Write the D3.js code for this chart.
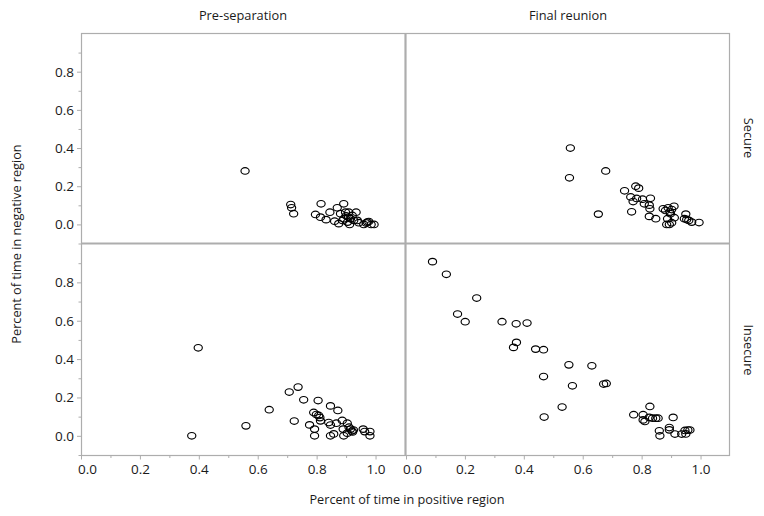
<!DOCTYPE html>
<html><head><meta charset="utf-8">
<script src="https://cdn.jsdelivr.net/npm/d3@7"></script>
<style>body{margin:0;background:#fff}svg{display:block}text{font-family:"Open Sans","Noto Sans",sans-serif;fill:#1a1a1a}</style>
</head><body><svg id="c" width="764" height="516"></svg>
<script>
const columns = ["Pre-separation", "Final reunion"];
const rows = ["Secure", "Insecure"];
const xTicks = [0, 0.2, 0.4, 0.6, 0.8, 1.0];
const yTicks = [0, 0.2, 0.4, 0.6, 0.8];

// Secure, Pre-separation: [positive, negative]
const securePre = [
  [0.557,0.280],[0.712,0.104],[0.715,0.087],[0.722,0.056],[0.796,0.052],[0.815,0.108],
  [0.813,0.038],[0.832,0.025],[0.845,0.064],[0.870,0.087],[0.892,0.108],[0.861,0.017],
  [0.881,0.056],[0.875,0.004],[0.898,0.064],[0.892,0.030],[0.900,0.045],[0.909,0.064],
  [0.905,0.012],[0.912,0.000],[0.915,0.030],[0.921,0.047],[0.926,0.021],[0.934,0.064],
  [0.938,0.021],[0.943,0.009],[0.960,0.000],[0.968,0.007],[0.972,0.012],[0.977,0.015],
  [0.985,0.000],[0.995,0.000],[0.908,0.038],[0.888,0.020]
];
// Secure, Final reunion
const secureFinal = [
  [0.558,0.400],[0.555,0.244],[0.678,0.280],[0.653,0.054],[0.742,0.176],[0.780,0.200],
  [0.790,0.190],[0.763,0.144],[0.771,0.120],[0.766,0.066],[0.783,0.136],[0.803,0.132],
  [0.809,0.108],[0.830,0.137],[0.826,0.101],[0.828,0.082],[0.826,0.042],[0.848,0.030],
  [0.873,0.082],[0.881,0.073],[0.890,0.087],[0.902,0.078],[0.910,0.095],[0.898,0.056],
  [0.888,0.030],[0.885,0.000],[0.894,0.000],[0.902,0.009],[0.911,0.035],[0.950,0.054],
  [0.945,0.030],[0.953,0.026],[0.960,0.021],[0.970,0.012],[0.995,0.010],[0.896,0.065]
];
// Insecure, Pre-separation
const insecurePre = [
  [0.398,0.459],[0.376,0.000],[0.560,0.052],[0.639,0.136],[0.707,0.228],[0.737,0.254],
  [0.756,0.188],[0.724,0.077],[0.805,0.184],[0.790,0.122],[0.799,0.111],[0.807,0.106],
  [0.811,0.095],[0.813,0.078],[0.776,0.057],[0.793,0.035],[0.793,0.000],[0.847,0.156],
  [0.872,0.132],[0.841,0.069],[0.847,0.056],[0.867,0.066],[0.887,0.080],[0.904,0.066],
  [0.890,0.035],[0.858,0.010],[0.847,0.000],[0.892,0.000],[0.904,0.014],[0.910,0.045],
  [0.915,0.035],[0.920,0.025],[0.925,0.030],[0.922,0.020],[0.958,0.035],[0.963,0.022],
  [0.981,0.022],[0.981,0.000]
];
// Insecure, Final reunion
const insecureFinal = [
  [0.090,0.908],[0.137,0.842],[0.240,0.718],[0.175,0.635],[0.201,0.595],[0.326,0.595],
  [0.374,0.584],[0.411,0.588],[0.375,0.487],[0.365,0.461],[0.440,0.452],[0.467,0.449],
  [0.553,0.370],[0.631,0.365],[0.467,0.309],[0.565,0.261],[0.671,0.270],[0.680,0.273],
  [0.530,0.150],[0.469,0.098],[0.773,0.110],[0.828,0.153],[0.805,0.110],[0.805,0.083],
  [0.811,0.075],[0.826,0.096],[0.837,0.092],[0.848,0.092],[0.856,0.092],[0.907,0.096],
  [0.860,0.026],[0.862,0.000],[0.894,0.043],[0.894,0.031],[0.913,0.009],[0.936,0.009],
  [0.947,0.028],[0.950,0.010],[0.957,0.030],[0.964,0.030]
];

const panelData = [[securePre, secureFinal], [insecurePre, insecureFinal]];

const svg = d3.select("#c");
const colX = [[81, 405], [406, 730]];
const rowY = [[243.5, 33.5], [455, 244]];
const gray = "#adadad";

for (let r = 0; r < 2; r++) {
  for (let c = 0; c < 2; c++) {
    const x = d3.scaleLinear().domain([0, 1.1]).range(colX[c]);
    const y = d3.scaleLinear().domain([-0.1, 1.0]).range(rowY[r]);
    const g = svg.append("g");
    g.selectAll("ellipse").data(panelData[r][c]).join("ellipse")
      .attr("cx", d => x(d[0])).attr("cy", d => y(d[1]))
      .attr("rx", 4.1).attr("ry", 3.3)
      .attr("fill", "none").attr("stroke", "#000").attr("stroke-width", 1.15);
  }
}

// frames
svg.append("rect").attr("x", 81.5).attr("y", 33.5).attr("width", 648).attr("height", 422)
  .attr("fill", "none").attr("stroke", gray).attr("stroke-width", 1.2);
svg.append("line").attr("x1", 405.5).attr("x2", 405.5).attr("y1", 33).attr("y2", 456)
  .attr("stroke", gray).attr("stroke-width", 2.2);
svg.append("line").attr("x1", 81).attr("x2", 730).attr("y1", 243.5).attr("y2", 243.5)
  .attr("stroke", gray).attr("stroke-width", 2.2);

// y axes
for (let r = 0; r < 2; r++) {
  const y = d3.scaleLinear().domain([-0.1, 1.0]).range(rowY[r]);
  const ax = svg.append("g").attr("transform", "translate(81,0)");
  ax.call(d3.axisLeft(y).tickValues(yTicks).tickFormat(d3.format(".1f")).tickSize(4).tickPadding(3));
  ax.select(".domain").remove();
  ax.selectAll(".tick line").attr("stroke", gray);
  ax.selectAll(".tick text").attr("font-size", 13.5).attr("fill", "#1a1a1a").attr("font-family", "Open Sans");
  const minor = [-0.1, 0.1, 0.3, 0.5, 0.7, 0.9];
  ax.selectAll(".minor").data(minor).join("line").attr("class", "minor")
    .attr("x1", -2.5).attr("x2", 0).attr("y1", d => y(d) + 0.5).attr("y2", d => y(d) + 0.5)
    .attr("stroke", gray);
}
// x axes
for (let c = 0; c < 2; c++) {
  const x = d3.scaleLinear().domain([0, 1.1]).range(colX[c]);
  const ax = svg.append("g").attr("transform", "translate(0,455.5)");
  ax.call(d3.axisBottom(x).tickValues(xTicks).tickFormat(d3.format(".1f")).tickSize(4).tickPadding(5));
  ax.select(".domain").remove();
  ax.selectAll(".tick line").attr("stroke", gray);
  ax.selectAll(".tick text").attr("font-size", 13.5).attr("fill", "#1a1a1a").attr("font-family", "Open Sans")
    .attr("dx", d => d === 0 ? 6 : 0);
  const minor = [0.1, 0.3, 0.5, 0.7, 0.9];
  ax.selectAll(".minor").data(minor).join("line").attr("class", "minor")
    .attr("x1", d => x(d) + 0.5).attr("x2", d => x(d) + 0.5).attr("y1", 0).attr("y2", 2.5)
    .attr("stroke", gray);
}

// column headers
const colCenters = [243, 568];
svg.selectAll(".colh").data(columns).join("text").attr("class", "colh")
  .attr("x", (d, i) => colCenters[i]).attr("y", 20).attr("text-anchor", "middle")
  .attr("font-size", 12.8).text(d => d);
// row headers
const rowCenters = [138, 350];
svg.selectAll(".rowh").data(rows).join("text").attr("class", "rowh")
  .attr("transform", (d, i) => `translate(744,${rowCenters[i]}) rotate(90)`)
  .attr("text-anchor", "middle").attr("font-size", 12.8).text(d => d);
// axis titles
svg.append("text").attr("x", 407).attr("y", 504).attr("text-anchor", "middle")
  .attr("font-size", 12.7).text("Percent of time in positive region");
svg.append("text").attr("transform", "translate(21,244) rotate(-90)")
  .attr("text-anchor", "middle").attr("font-size", 12.7).text("Percent of time in negative region");
</script></body></html>
